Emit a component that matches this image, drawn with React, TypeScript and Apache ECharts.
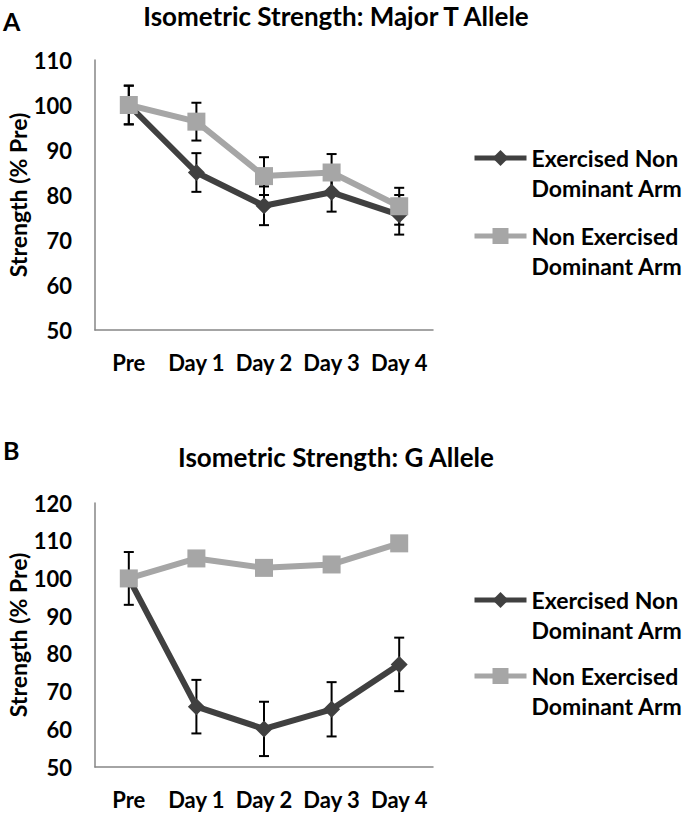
import React, { useEffect, useRef } from "react";
import * as echarts from "echarts";

const categories = ["Pre", "Day 1", "Day 2", "Day 3", "Day 4"];
const yTicksA = [50, 60, 70, 80, 90, 100, 110];
const yTicksB = [50, 60, 70, 80, 90, 100, 110, 120];

const nameEx = "Exercised Non Dominant Arm";
const nameNon = "Non Exercised Dominant Arm";

// Panel A: Major T Allele
const exA = [100, 85, 77.6, 80.6, 75.6];
const exAErr = [4.3, 4.3, 4.3, 4.3, 4.4];
const nonA = [100, 96.3, 84.2, 85.0, 77.5];
const nonAErr = [4.3, 4.2, 4.2, 4.1, 4.1];

// Panel B: G Allele
const exB = [100, 66.0, 60.1, 65.3, 77.2];
const exBErr = [7.0, 7.1, 7.2, 7.2, 7.1];
const nonB = [100, 105.3, 102.8, 103.7, 109.3];

const DARK = "#404040";
const LIGHT = "#a6a6a6";
const FONT = "Lato";

function errRender(params: any, api: any) {
  const x = api.value(0);
  const lo = api.coord([x, api.value(1)]);
  const hi = api.coord([x, api.value(2)]);
  const w = 5;
  const st = { stroke: "#000", lineWidth: 2 };
  return {
    type: "group",
    children: [
      { type: "line", shape: { x1: hi[0], y1: hi[1], x2: lo[0], y2: lo[1] }, style: st },
      { type: "line", shape: { x1: hi[0] - w, y1: hi[1], x2: hi[0] + w, y2: hi[1] }, style: st },
      { type: "line", shape: { x1: lo[0] - w, y1: lo[1], x2: lo[0] + w, y2: lo[1] }, style: st },
    ],
  };
}

const errData = (vals: number[], errs: number[]) =>
  vals.map((v, i) => [i, v - errs[i], v + errs[i]]);

export default function App() {
  const ref = useRef<HTMLDivElement>(null);
  useEffect(() => {
    if (!ref.current) return;
    const chart = echarts.init(ref.current, undefined, { renderer: "svg" });

    const xAxisCommon = {
      type: "category",
      data: categories,
      boundaryGap: true,
      axisLine: { lineStyle: { color: "#868686", width: 1.5 } },
      axisTick: { show: false },
      axisLabel: { color: "#000", fontWeight: "bold", fontSize: 22, fontFamily: FONT, margin: 21, interval: 0 },
    };
    const yAxisCommon = {
      type: "value",
      interval: 10,
      axisLine: { show: true, lineStyle: { color: "#868686", width: 1.5 } },
      axisTick: { show: false },
      splitLine: { show: false },
      axisLabel: { color: "#000", fontWeight: "bold", fontSize: 22, fontFamily: FONT, margin: 23 },
      name: "Strength (% Pre)",
      nameLocation: "middle",
      nameGap: 65,
      nameTextStyle: { color: "#000", fontWeight: "bold", fontSize: 23, fontFamily: FONT },
    };

    const legendCommon = {
      orient: "vertical",
      left: 472,
      itemWidth: 52,
      itemHeight: 20,
      itemGap: 0,
      padding: 0,
      selectedMode: false,
      lineStyle: { width: 5 },
      formatter: (n: string) => "\n" + n.replace(" Dominant", "\nDominant"),
      textStyle: {
        fontFamily: FONT,
        fontWeight: "bold",
        fontSize: 23,
        color: "#000",
        lineHeight: 30,
      },
    };

    const lineSeries = (name: string, data: number[], idx: number, dark: boolean) => ({
      type: "line",
      name,
      data,
      xAxisIndex: idx,
      yAxisIndex: idx,
      symbol: dark ? "diamond" : "rect",
      symbolSize: dark ? 17 : 18,
      z: dark ? 3 : 4,
      lineStyle: { color: dark ? DARK : LIGHT, width: 6 },
      itemStyle: { color: dark ? DARK : LIGHT },
    });

    const errSeries = (vals: number[], errs: number[], idx: number) => ({
      type: "custom",
      coordinateSystem: "cartesian2d",
      xAxisIndex: idx,
      yAxisIndex: idx,
      renderItem: errRender,
      data: errData(vals, errs),
      encode: { x: 0, y: [1, 2] },
      z: 1,
      silent: true,
    });

    chart.setOption({
      animation: false,
      textStyle: { fontFamily: FONT },
      grid: [
        { left: 95, top: 60, width: 338, height: 270 },
        { left: 95, top: 503, width: 338, height: 264 },
      ],
      xAxis: [
        { ...xAxisCommon, gridIndex: 0 },
        { ...xAxisCommon, gridIndex: 1 },
      ],
      yAxis: [
        { ...yAxisCommon, gridIndex: 0, min: yTicksA[0], max: yTicksA[yTicksA.length - 1] },
        { ...yAxisCommon, gridIndex: 1, min: yTicksB[0], max: yTicksB[yTicksB.length - 1] },
      ],
      legend: [
        { ...legendCommon, data: [nameEx], top: 113 },
        { ...legendCommon, data: [nameNon], top: 191 },
        { ...legendCommon, data: [nameEx], top: 555 },
        { ...legendCommon, data: [nameNon], top: 631 },
      ],
      graphic: [
        { type: "text", left: 3, top: 8, style: { text: "A", font: `bold 25px ${FONT}`, fill: "#000" } },
        { type: "text", left: 3, top: 437, style: { text: "B", font: `bold 25px ${FONT}`, fill: "#000" } },
        {
          type: "text", x: 336, y: 16,
          style: { text: "Isometric Strength: Major T Allele", font: `bold 26px ${FONT}`, lineHeight: 28, fill: "#000", textAlign: "center", textVerticalAlign: "middle" },
        },
        {
          type: "text", x: 336, y: 457,
          style: { text: "Isometric Strength: G Allele", font: `bold 26px ${FONT}`, lineHeight: 28, fill: "#000", textAlign: "center", textVerticalAlign: "middle" },
        },
      ],
      series: [
        errSeries(exA, exAErr, 0),
        errSeries(nonA, nonAErr, 0),
        lineSeries(nameEx, exA, 0, true),
        lineSeries(nameNon, nonA, 0, false),
        errSeries(exB, exBErr, 1),
        lineSeries(nameEx, exB, 1, true),
        lineSeries(nameNon, nonB, 1, false),
      ],
    });
    return () => chart.dispose();
  }, []);
  return (
    <div
      ref={ref}
      style={{ position: "absolute", left: 0, top: 0, width: 683, height: 815, background: "#fff" }}
    />
  );
}
